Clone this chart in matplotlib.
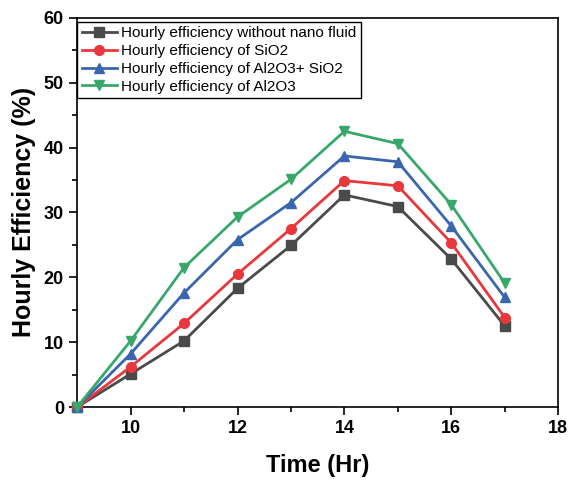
import matplotlib
matplotlib.use("Agg")
import matplotlib.pyplot as plt
from matplotlib.ticker import MultipleLocator

plt.rcParams['font.family'] = ['Liberation Sans', 'DejaVu Sans']

hours = [9, 10, 11, 12, 13, 14, 15, 16, 17]
eff_base = [0, 5.1, 10.2, 18.3, 24.9, 32.7, 30.9, 22.8, 12.5]
eff_sio2 = [0, 6.2, 12.9, 20.5, 27.5, 34.9, 34.1, 25.3, 13.8]
eff_mix = [0, 8.2, 17.6, 25.8, 31.5, 38.7, 37.8, 27.9, 16.9]
eff_al2o3 = [0, 10.2, 21.5, 29.3, 35.1, 42.5, 40.6, 31.2, 19.1]

labels = ["Hourly efficiency without nano fluid", "Hourly efficiency of SiO2",
          "Hourly efficiency of Al2O3+ SiO2", "Hourly efficiency of Al2O3"]
colors = ["#4a4a4a", "#e8383d", "#3a66b0", "#37a86a"]
markers = ["s", "o", "^", "v"]

fig = plt.figure(figsize=(5.76, 4.8), dpi=100)
ax = fig.add_axes([0.134, 0.152, 0.835, 0.811])

for ys, lab, c, m in zip([eff_base, eff_sio2, eff_mix, eff_al2o3], labels, colors, markers):
    ax.plot(hours, ys, color=c, marker=m, markersize=7, linewidth=2, label=lab, clip_on=False, zorder=3)

ax.set_xlim(9, 18)
ax.set_ylim(0, 60)
ax.xaxis.set_major_locator(MultipleLocator(2))
ax.xaxis.set_minor_locator(MultipleLocator(1))
ax.yaxis.set_major_locator(MultipleLocator(10))
ax.yaxis.set_minor_locator(MultipleLocator(5))
ax.tick_params(which='both', direction='out', width=1.2, labelsize=13)
ax.tick_params(which='major', length=6)
ax.tick_params(which='minor', length=3.5)
ax.set_xticks([10, 12, 14, 16, 18])
for t in ax.get_xticklabels() + ax.get_yticklabels():
    t.set_fontweight('bold')
for s in ax.spines.values():
    s.set_linewidth(1.2)

ax.set_xlabel("Time (Hr)", fontsize=17, fontweight='bold', labelpad=12)
ax.set_ylabel("Hourly Efficiency (%)", fontsize=18, fontweight='bold', labelpad=6)

leg = ax.legend(loc='upper left', bbox_to_anchor=(0.0, 0.99), fontsize=11, fancybox=False,
                edgecolor='black', framealpha=1, borderaxespad=0, handlelength=2.3,
                handletextpad=0.3, labelspacing=0.25, borderpad=0.3)
leg.get_frame().set_linewidth(1.0)

fig.savefig("out.png", dpi=100)
